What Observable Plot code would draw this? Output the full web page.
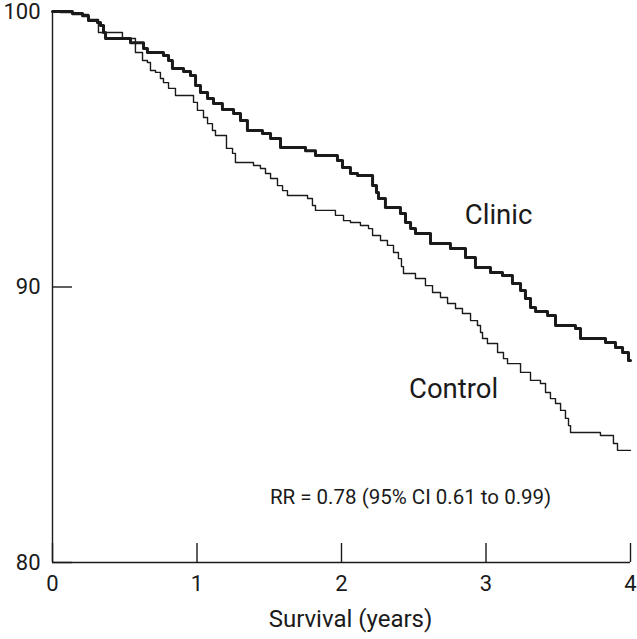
<!DOCTYPE html>
<html><head><meta charset="utf-8">
<script src="https://cdn.jsdelivr.net/npm/d3@7"></script>
<script src="https://cdn.jsdelivr.net/npm/@observablehq/plot@0.6"></script>
<style>body{margin:0;background:#fff}</style>
</head><body><div id="chart"></div>
<script>
// Kaplan–Meier style survival steps (years, % surviving)
const clinicTime = [0,0.138,0.208,0.249,0.311,0.332,0.353,0.367,0.540,0.630,0.657,0.768,0.803,0.830,0.907,0.955,0.990,1.024,1.073,1.114,1.176,1.253,1.301,1.349,1.453,1.509,1.578,1.751,1.820,1.972,2.007,2.062,2.111,2.215,2.242,2.256,2.304,2.408,2.443,2.478,2.512,2.616,2.754,2.858,2.927,3.031,3.114,3.183,3.239,3.273,3.308,3.343,3.426,3.481,3.619,3.654,3.827,3.896,3.945,3.986,4.0];
const clinicSurv = [100,99.93,99.85,99.67,99.60,99.49,99.24,99.02,98.87,98.66,98.51,98.40,98.22,97.93,97.82,97.68,97.31,97.06,96.84,96.66,96.44,96.30,96.04,95.68,95.57,95.39,95.06,94.95,94.77,94.59,94.34,94.12,94.05,93.68,93.43,93.21,92.89,92.67,92.34,92.12,91.94,91.58,91.40,91.07,90.71,90.53,90.42,90.13,89.87,89.58,89.26,89.11,88.97,88.60,88.49,88.13,87.99,87.80,87.62,87.33,87.33];
const controlTime = [0,0.055,0.138,0.249,0.318,0.484,0.574,0.623,0.657,0.678,0.713,0.747,0.768,0.803,0.851,0.976,1.003,1.045,1.073,1.107,1.128,1.204,1.246,1.266,1.391,1.439,1.474,1.509,1.557,1.592,1.626,1.765,1.799,1.820,1.958,2.014,2.062,2.131,2.187,2.215,2.270,2.318,2.360,2.394,2.415,2.429,2.512,2.581,2.630,2.685,2.734,2.789,2.837,2.893,2.941,2.962,2.976,3.010,3.080,3.121,3.149,3.239,3.308,3.377,3.412,3.446,3.481,3.516,3.550,3.571,3.585,3.792,3.882,3.910,4.0];
const controlSurv = [100,99.96,99.89,99.71,99.24,99.02,98.51,98.22,98.15,97.86,97.79,97.57,97.42,97.21,96.95,96.70,96.41,96.15,95.93,95.68,95.50,95.03,94.85,94.52,94.41,94.30,94.12,93.94,93.68,93.50,93.32,93.21,92.96,92.78,92.60,92.41,92.34,92.23,92.12,91.87,91.69,91.51,91.25,91.03,90.74,90.49,90.31,90.05,89.80,89.62,89.40,89.22,89.04,88.78,88.60,88.35,88.13,87.95,87.62,87.40,87.22,86.90,86.61,86.50,86.17,85.95,85.77,85.52,85.23,84.97,84.72,84.61,84.32,84.07,84.07];
const xTicks = [0,1,2,3,4];
const yTicks = [80,90,100];
const seriesLabels = [
  {name: "Clinic", t: 3.087, s: 92.62},
  {name: "Control", t: 2.776, s: 86.3}
];
const noteText = "RR = 0.78 (95% CI 0.61 to 0.99)";
const noteAt = {t: 2.478, s: 82.36};
const xTitle = "Survival (years)";

const clinic = clinicTime.map((t, i) => ({t, s: clinicSurv[i]}));
const control = controlTime.map((t, i) => ({t, s: controlSurv[i]}));
const FONT = "Roboto, 'Noto Sans', sans-serif";
const ink = "#1a1a1a";

const chart = Plot.plot({
  width: 637,
  height: 639,
  marginLeft: 52,
  marginRight: 7,
  marginTop: 11,
  marginBottom: 77,
  style: {fontFamily: FONT, background: "#fff", color: ink},
  x: {domain: [0, 4]},
  y: {domain: [80, 100]},
  marks: [
    Plot.axisX({ticks: xTicks, tickFormat: d => String(d), tickSize: -19, tickPadding: 32, fontSize: 22, strokeWidth: 1.4, label: null, stroke: ink, fill: ink}),
    Plot.axisY({ticks: yTicks, tickFormat: d => String(d), tickSize: -20, tickPadding: 32, fontSize: 22, strokeWidth: 1.4, label: null, stroke: ink, fill: ink}),
    Plot.ruleX([0], {stroke: ink, strokeWidth: 1.4}),
    Plot.ruleY([80], {stroke: ink, strokeWidth: 1.4}),
    Plot.line(control, {x: "t", y: "s", curve: "step-after", stroke: ink, strokeWidth: 1.4}),
    Plot.line(clinic, {x: "t", y: "s", curve: "step-after", stroke: ink, strokeWidth: 3}),
    Plot.text(seriesLabels, {x: "t", y: "s", text: "name", fontSize: 27.5, fill: ink}),
    Plot.text([noteText], {x: noteAt.t, y: noteAt.s, text: d => d, fontSize: 20.5, fill: ink}),
    Plot.text([xTitle], {frameAnchor: "bottom", dx: 9, dy: 64, text: d => d, fontSize: 24, fill: ink})
  ]
});
document.getElementById("chart").appendChild(chart);
</script>
</body></html>
